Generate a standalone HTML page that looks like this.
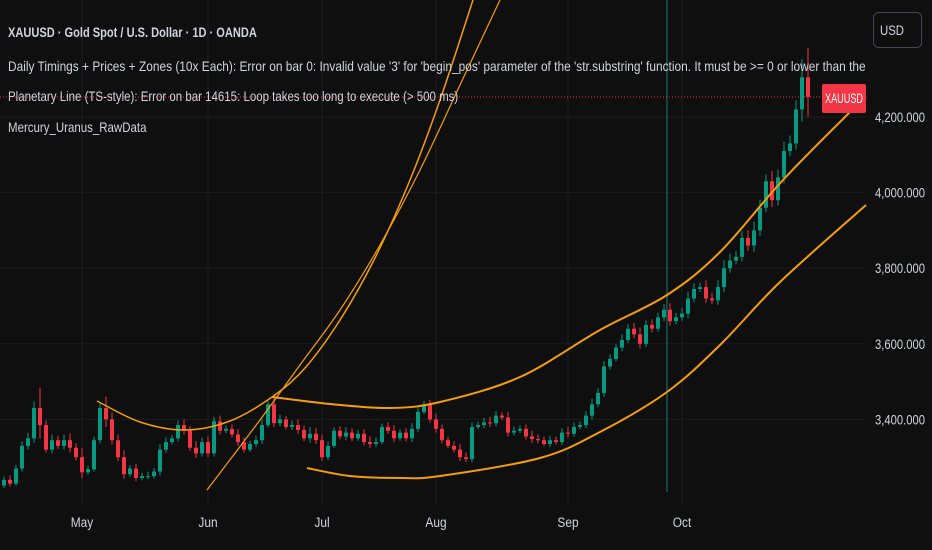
<!DOCTYPE html>
<html><head><meta charset="utf-8"><style>
html,body{margin:0;padding:0;background:#0f0f0f;}
body{width:932px;height:550px;overflow:hidden;position:relative;font-family:"Liberation Sans",sans-serif;}
.t{position:absolute;left:8px;color:#d1d4dc;font-size:14px;white-space:nowrap;transform-origin:0 0;}
</style></head><body>
<svg id="chart" width="932" height="550" style="position:absolute;left:0;top:0">
<rect x="0" y="0" width="932" height="550" fill="#0f0f0f"/>
<g id="grid"></g>
<line x1="667" y1="0" x2="667" y2="492" stroke="#1b7d70" stroke-width="1"/>
<g id="candles"></g>
<g id="curves"></g>
<line id="pline" x1="0" x2="822" stroke="#f23645" stroke-width="1" stroke-dasharray="1,2"/>
<g id="yaxis"></g>
<g id="xaxis"></g>
<g><rect id="plab" x="822" width="44" height="29" rx="2" fill="#f23645"/><text id="plabt" x="825" fill="#fff" font-size="14" textLength="38" lengthAdjust="spacingAndGlyphs" font-family="Liberation Sans">XAUUSD</text></g>
<g><rect x="873.5" y="12.5" width="48" height="35" rx="5" fill="none" stroke="#434651"/><text x="880" y="35" fill="#d1d4dc" font-size="14" textLength="24" lengthAdjust="spacingAndGlyphs" font-family="Liberation Sans">USD</text></g>
</svg>
<div style="position:absolute;left:0;top:0;width:866px;height:150px;overflow:hidden">
<div class="t" style="top:24px;font-weight:bold;transform:scaleX(0.79)">XAUUSD · Gold Spot / U.S. Dollar · 1D · OANDA</div>
<div class="t" style="top:58px;transform:scaleX(0.85)">Daily Timings + Prices + Zones (10x Each): Error on bar 0: Invalid value '3' for 'begin_pos' parameter of the 'str.substring' function. It must be &gt;= 0 or lower than the 'source' length.</div>
<div class="t" style="top:88px;transform:scaleX(0.82)">Planetary Line (TS-style): Error on bar 14615: Loop takes too long to execute (&gt; 500 ms)</div>
<div class="t" style="top:119px;transform:scaleX(0.82)">Mercury_Uranus_RawData</div>
</div>
<script>
const closes=[3240,3230,3270,3330,3350,3430,3385,3320,3345,3330,3345,3325,3300,3260,3268,3345,3430,3400,3345,3300,3255,3270,3245,3250,3250,3262,3320,3340,3350,3385,3370,3325,3310,3340,3310,3395,3370,3375,3360,3340,3320,3335,3345,3385,3440,3390,3400,3380,3385,3372,3350,3362,3345,3300,3330,3370,3355,3365,3350,3362,3340,3335,3340,3380,3370,3350,3365,3350,3375,3420,3440,3400,3375,3345,3330,3320,3300,3295,3380,3385,3392,3390,3410,3405,3365,3370,3375,3355,3348,3345,3335,3345,3340,3365,3362,3380,3385,3410,3440,3470,3540,3560,3590,3610,3640,3625,3600,3650,3640,3670,3690,3660,3670,3680,3720,3745,3750,3720,3715,3750,3800,3820,3830,3880,3860,3900,3960,4030,3980,4040,4110,4130,4220,4305,4253];
const firstOpen=3225;
const wicks=[15,20,15,20,25,30,90,20,25,20,25,30,20,40,15,15,20,50,30,25,30,15,20,15,20,15,25,20,15,20,25,20,30,20,25,20,25,15,20,25,20,15,20,25,15,25,20,15,20,25,20,30,25,25,20,15,20,25,20,15,20,25,20,15,20,25,15,20,25,20,15,20,25,20,15,20,25,20,20,15,20,25,20,15,25,20,15,20,25,20,15,20,15,20,25,20,15,20,25,20,25,20,15,25,20,25,30,20,25,20,25,30,20,25,30,25,20,30,25,30,35,30,25,30,35,40,35,30,45,35,40,35,40,80,130];
const priceTicks=[3400,3600,3800,4000,4200];
const priceTickLabels=["3,400.000","3,600.000","3,800.000","4,000.000","4,200.000"];
const months=["May","Jun","Jul","Aug","Sep","Oct"];
const monthBars=[13,34,53,72,94,113];
const upperArc=[[97,401],[140,422],[185,430],[230,421],[272,397],[305,368],[340,320],[375,258],[410,180],[440,100],[473,0]];
const steepLine=[[207,490],[260,420],[300,365],[340,310],[380,245],[420,170],[460,85],[500,0]];
const upperChannel=[[272,397],[330,404],[390,408],[440,402],[520,377],[600,330],[667,295],[720,252],[783,180],[850,112],[866,97]];
const lowerChannel=[[307,468],[350,476],[400,478],[440,476],[540,458],[600,432],[667,392],[720,345],[780,282],[866,205]];
const lastPrice=4253;
function y(p){return 117+(4200-p)*0.378;}
function x(i){return 4+6*i;}
const NS="http://www.w3.org/2000/svg";
function mk(t,a,parent){const e=document.createElementNS(NS,t);for(const k in a)e.setAttribute(k,a[k]);parent.appendChild(e);return e;}
const grid=document.getElementById('grid');
priceTicks.forEach((p,i)=>{const l=mk('line',{x1:0,x2:866,y1:y(p),y2:y(p),stroke:'#1c1c1c'},grid);


const t=mk('text',{x:875,y:y(p)+5,fill:'#d1d4dc','font-size':14,textLength:50,lengthAdjust:'spacingAndGlyphs','font-family':'Liberation Sans'},document.getElementById('yaxis'));
t.textContent=priceTickLabels[i];

});
monthBars.forEach((b,i)=>{const l=mk('line',{x1:x(b),x2:x(b),y1:0,y2:505,stroke:'#1c1c1c'},grid);


const t=mk('text',{x:x(b),y:527,fill:'#d1d4dc','font-size':14,'text-anchor':'middle','font-family':'Liberation Sans',transform:'translate('+x(b)+',0) scale(0.85,1) translate('+(-x(b))+',0)'},document.getElementById('xaxis'));
t.textContent=months[i];

});
const cg=document.getElementById('candles');
closes.forEach((c,i)=>{const o=i===0?firstOpen:closes[i-1];const up=c>=o;const col=up?'#089981':'#f23645';
const hi=Math.max(o,c)+wicks[i]*0.6, lo=Math.min(o,c)-wicks[i]*0.4;
const g=mk('g',{},cg);


mk('line',{x1:x(i),x2:x(i),y1:y(hi),y2:y(lo),stroke:col,'stroke-width':1},g);
const top=y(Math.max(o,c)),h=Math.max(1,y(Math.min(o,c))-top);
mk('rect',{x:x(i)-2,y:top,width:4,height:h,fill:col},g);});
function path(pts){let d='M'+pts[0][0]+','+pts[0][1];for(let i=0;i<pts.length-1;i++){const p0=pts[i-1]||pts[i],p1=pts[i],p2=pts[i+1],p3=pts[i+2]||p2;
d+=' C'+(p1[0]+(p2[0]-p0[0])/6)+','+(p1[1]+(p2[1]-p0[1])/6)+' '+(p2[0]-(p3[0]-p1[0])/6)+','+(p2[1]-(p3[1]-p1[1])/6)+' '+p2[0]+','+p2[1];}return d;}
const cv=document.getElementById('curves');
[[upperArc,1.5,'upper-arc-curve'],[steepLine,1.2,'steep-curve'],[upperChannel,2,'upper-channel'],[lowerChannel,2,'lower-channel']].forEach(a=>{
const p=mk('path',{d:path(a[0]),fill:'none',stroke:'#f59e0b','stroke-width':a[1]},cv);

});
const ly=y(lastPrice);
document.getElementById('pline').setAttribute('y1',ly);document.getElementById('pline').setAttribute('y2',ly);
document.getElementById('plab').setAttribute('y',ly-13);document.getElementById('plabt').setAttribute('y',ly+6);
</script>
</body></html>
